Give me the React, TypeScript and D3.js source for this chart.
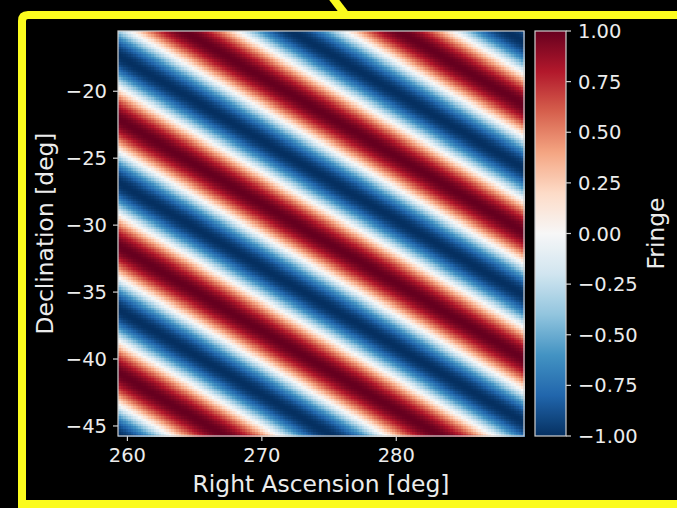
import React from 'react';
import * as d3 from 'd3';

// sky window of the map (deg)
const raExtent = [259.3, 289.5];
const decExtent = [-45.75, -15.5];

// axis ticks
const raTicks = [260, 270, 280];
const decTicks = [-20, -25, -30, -35, -40, -45];
const cbarTicks = [1, 0.75, 0.5, 0.25, 0, -0.25, -0.5, -0.75, -1];

// fringe of one baseline, in cycles per degree
const baselineUV = [0.0625, 0.1055];
const fringeOrigin = [259.3, -15.5];
const fringePhase = 0.69;

// RdBu_r colour stops, from -1 (blue) to +1 (red)
const rdbu = ['#053061', '#2166ac', '#4393c3', '#92c5de', '#d1e5f0', '#f7f7f7',
  '#fddbc7', '#f4a582', '#d6604d', '#b2182b', '#67001f'];

const gridSize = 160;

const W = 677;
const H = 508;
const plot = { left: 118, right: 524, top: 31, bottom: 436 };
const cbar = { left: 535, right: 566 };

const textColor = '#ececec';
const lineColor = '#d0d0d0';
const yellow = '#fbfb1e';
const font = 'DejaVu Sans, sans-serif';

function fringe(ra: number, dec: number) {
  const ph = baselineUV[0] * (ra - fringeOrigin[0]) + baselineUV[1] * (dec - fringeOrigin[1]) + fringePhase;
  return Math.cos(2 * Math.PI * ph);
}

export default function App() {
  const x = d3.scaleLinear().domain(raExtent).range([plot.left, plot.right]);
  const y = d3.scaleLinear().domain(decExtent).range([plot.bottom, plot.top]);
  const color = d3.scaleLinear<string>()
    .domain(rdbu.map((_, i) => -1 + (2 * i) / (rdbu.length - 1)))
    .range(rdbu)
    .interpolate(d3.interpolateRgb)
    .clamp(true);
  const cy = d3.scaleLinear().domain([-1, 1]).range([plot.bottom, plot.top]);
  const fmt = d3.format('.2f');

  const dra = (raExtent[1] - raExtent[0]) / gridSize;
  const ddec = (decExtent[1] - decExtent[0]) / gridSize;
  const cells: { ra: number; dec: number; v: number }[] = [];
  d3.range(gridSize).forEach(i => {
    d3.range(gridSize).forEach(j => {
      const ra = raExtent[0] + i * dra;
      const dec = decExtent[0] + j * ddec;
      cells.push({ ra, dec, v: fringe(ra + dra / 2, dec + ddec / 2) });
    });
  });
  const cw = x(raExtent[0] + dra) - x(raExtent[0]);
  const ch = y(decExtent[0]) - y(decExtent[0] + ddec);

  const stops = d3.range(0, 1.0001, 0.02);

  return (
    <svg width={W} height={H} style={{ position: 'absolute', left: 0, top: 0, background: '#000' }}>
      <rect x={0} y={0} width={W} height={H} fill="#000" />

      {/* slide highlight frame */}
      <path d={`M ${W + 5} 15 L 28 15 Q 22 15 22 21 L 22 504 L ${W + 5} 504`} fill="none" stroke={yellow} strokeWidth={8} />
      <line x1={332} y1={-3} x2={345} y2={14} stroke={yellow} strokeWidth={8} />

      {/* heatmap */}
      <g shapeRendering="crispEdges">
        {cells.map((c, k) => (
          <rect key={k} x={x(c.ra)} y={y(c.dec) - ch} width={cw + 0.6} height={ch + 0.6} fill={color(c.v)} />
        ))}
      </g>
      <rect x={plot.left} y={plot.top} width={plot.right - plot.left} height={plot.bottom - plot.top} fill="none" stroke={lineColor} strokeWidth={1.2} />

      {/* x axis */}
      {raTicks.map(t => (
        <g key={t}>
          <line x1={x(t)} x2={x(t)} y1={plot.bottom} y2={plot.bottom + 5} stroke={lineColor} strokeWidth={1.2} />
          <text x={x(t)} y={462} textAnchor="middle" fill={textColor} fontFamily={font} fontSize={19.5}>{t}</text>
        </g>
      ))}
      <text x={(plot.left + plot.right) / 2} y={492} textAnchor="middle" fill={textColor} fontFamily={font} fontSize={23.4}>Right Ascension [deg]</text>

      {/* y axis */}
      {decTicks.map(t => (
        <g key={t}>
          <line x1={plot.left - 5} x2={plot.left} y1={y(t)} y2={y(t)} stroke={lineColor} strokeWidth={1.2} />
          <text x={107} y={y(t)} dy="0.36em" textAnchor="end" fill={textColor} fontFamily={font} fontSize={19.5}>{d3.format('d')(t)}</text>
        </g>
      ))}
      <text transform={`translate(53, ${(plot.top + plot.bottom) / 2}) rotate(-90)`} textAnchor="middle" fill={textColor} fontFamily={font} fontSize={23.4}>Declination [deg]</text>

      {/* colorbar */}
      <defs>
        <linearGradient id="cbar" x1="0" y1="1" x2="0" y2="0">
          {stops.map(s => (
            <stop key={s} offset={s} stopColor={color(s * 2 - 1)} />
          ))}
        </linearGradient>
      </defs>
      <rect x={cbar.left} y={plot.top} width={cbar.right - cbar.left} height={plot.bottom - plot.top} fill="url(#cbar)" stroke={lineColor} strokeWidth={1.2} />
      {cbarTicks.map(t => (
        <g key={t}>
          <line x1={cbar.right} x2={cbar.right + 5} y1={cy(t)} y2={cy(t)} stroke={lineColor} strokeWidth={1.2} />
          <text x={578} y={cy(t)} dy="0.36em" fill={textColor} fontFamily={font} fontSize={19.5}>{fmt(t)}</text>
        </g>
      ))}
      <text transform={`translate(664, ${(plot.top + plot.bottom) / 2}) rotate(-90)`} textAnchor="middle" fill={textColor} fontFamily={font} fontSize={23.4}>Fringe</text>
    </svg>
  );
}
